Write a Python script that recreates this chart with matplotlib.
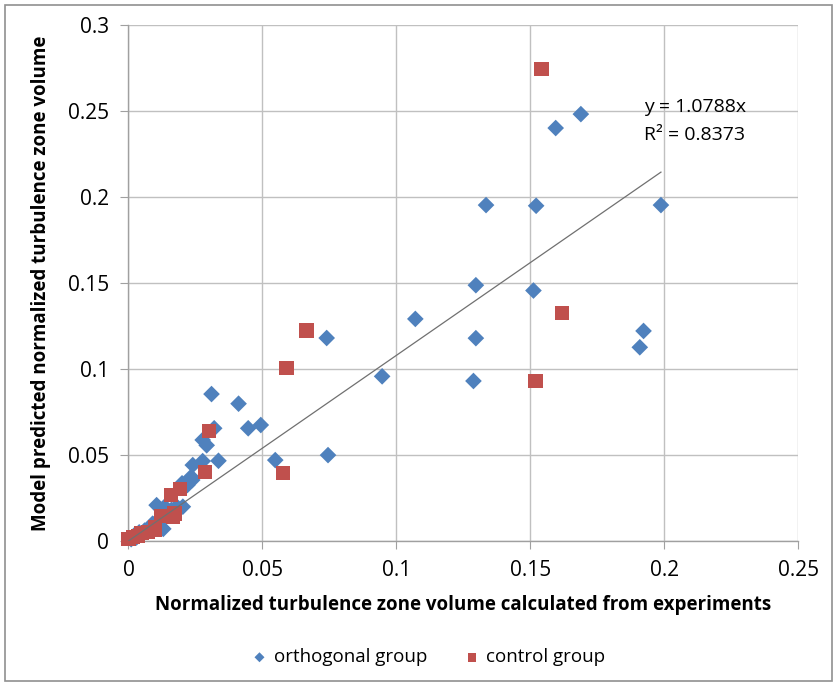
import matplotlib
matplotlib.use("Agg")
import matplotlib.pyplot as plt
from matplotlib.patches import Rectangle
import numpy as np

plt.rcParams['font.family'] = ['Open Sans', 'DejaVu Sans']

# orthogonal group (x: experiments, y: model)
orth_x = [0.001, 0.002, 0.003, 0.004, 0.005, 0.006, 0.008, 0.009, 0.011, 0.012, 0.013,
          0.0135, 0.0105, 0.015, 0.016, 0.018, 0.0203, 0.020, 0.022, 0.0238, 0.0234,
          0.024, 0.0277, 0.0336, 0.0277, 0.0292, 0.032, 0.031, 0.0411, 0.0447, 0.0494,
          0.0548, 0.0745, 0.074, 0.0947, 0.1071, 0.1288, 0.1297, 0.1297, 0.1335, 0.1512,
          0.1522, 0.1595, 0.1689, 0.1909, 0.1923, 0.1988]
orth_y = [0.001, 0.003, 0.002, 0.005, 0.004, 0.006, 0.008, 0.010, 0.012, 0.008, 0.007,
          0.0199, 0.0208, 0.016, 0.018, 0.020, 0.0199, 0.0335, 0.0325, 0.0354, 0.0373,
          0.0441, 0.0464, 0.0466, 0.0587, 0.0556, 0.0655, 0.0854, 0.0798, 0.0655, 0.0674,
          0.0470, 0.0499, 0.1180, 0.0957, 0.1291, 0.0930, 0.1179, 0.1487, 0.1953, 0.1456,
          0.1949, 0.2401, 0.2482, 0.1126, 0.1221, 0.1953]

# control group
ctrl_x = [0.0, 0.0018, 0.0035, 0.0049, 0.0074, 0.0098, 0.0098, 0.0123, 0.0166, 0.0172,
          0.0160, 0.0191, 0.0287, 0.0302, 0.0576, 0.0590, 0.0665, 0.1520, 0.1542, 0.1618]
ctrl_y = [0.001, 0.0024, 0.003, 0.0044, 0.0053, 0.0065, 0.0082, 0.0145, 0.0140, 0.0160,
          0.0267, 0.0300, 0.0400, 0.0637, 0.0393, 0.1006, 0.1223, 0.0928, 0.2746, 0.1324]

slope = 1.0788
r2_text = "R\u00b2 = 0.8373"
eq_text = "y = 1.0788x"

blue = '#4F81BD'
red = '#C0504D'

fig = plt.figure(figsize=(8.37, 6.86), dpi=100)
ax = fig.add_axes([0.1535, 0.2115, 0.800, 0.752])

ax.set_xlim(0, 0.25)
ax.set_ylim(0, 0.3)
ax.set_xticks([0, 0.05, 0.1, 0.15, 0.2, 0.25])
ax.set_yticks([0, 0.05, 0.1, 0.15, 0.2, 0.25, 0.3])
ax.set_xticklabels(['0', '0.05', '0.1', '0.15', '0.2', '0.25'])
ax.set_yticklabels(['0', '0.05', '0.1', '0.15', '0.2', '0.25', '0.3'])
ax.grid(True, color='#c0c0c0', linewidth=1.0)
ax.set_axisbelow(True)
for s in ['top', 'right']:
    ax.spines[s].set_visible(False)
for s in ['left', 'bottom']:
    ax.spines[s].set_color('#a0a0a0')
    ax.spines[s].set_linewidth(1.0)
ax.tick_params(axis='both', direction='out', length=6, color='#a0a0a0',
               labelsize=15, labelcolor='#000000', pad=8)

ax.scatter(orth_x, orth_y, marker='D', s=72, color=blue, edgecolors='none',
           label='orthogonal group', zorder=3, clip_on=False)
ax.scatter(ctrl_x, ctrl_y, marker='s', s=105, color=red, edgecolors='none',
           label='control group', zorder=3, clip_on=False)

xmax = max(max(orth_x), max(ctrl_x))
xl = np.array([0.0, xmax])
ax.plot(xl, slope * xl, color='#707070', linewidth=0.9, zorder=4)

ax.text(0.1925, 0.2525, eq_text, fontsize=14, va='center', ha='left')
ax.text(0.1925, 0.2362, r2_text, fontsize=14, va='center', ha='left')

ax.set_xlabel('Normalized turbulence zone volume calculated from experiments',
              fontsize=13.5, fontweight='bold', labelpad=10)
ax.set_ylabel('Model predicted normalized turbulence zone volume',
              fontsize=13.5, fontweight='bold', labelpad=12)

leg = fig.legend(loc='center', bbox_to_anchor=(0.512, 0.042), ncol=2, frameon=False,
                 fontsize=13.5, handlelength=0.8, handletextpad=0.35,
                 columnspacing=2.0, markerscale=0.6)

fig.patches.append(Rectangle((0.006, 0.007), 0.988, 0.986, transform=fig.transFigure,
                             fill=False, edgecolor='#909090', linewidth=1.2))

fig.savefig('out.png', dpi=100)
